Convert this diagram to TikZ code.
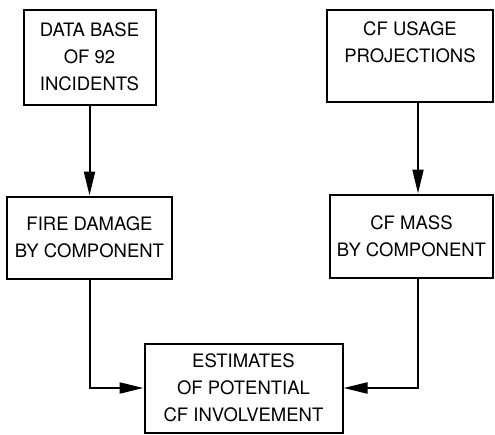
\documentclass[tikz,border=0pt]{standalone}
\usepackage{fontspec}
\setmainfont{TeX Gyre Heros}
\usetikzlibrary{arrows.meta}
\begin{document}
\begin{tikzpicture}[x=1pt,y=-1pt,line width=2pt,>={Triangle[length=24pt,width=11pt]}]
        \tikzstyle{block}=[rectangle,draw=black,inner sep=0pt,align=center,font=\fontsize{18.5}{27}\selectfont]
        \tikzstyle{edge}=[draw,->]
        \useasboundingbox (0,0) rectangle (495,434);
       \begin{scope}
         \node [block,minimum width=132pt,minimum height=95pt] (db) at (89.5,57) {DATA BASE\\OF 92\\INCIDENTS};
         \node [block,minimum width=166pt,minimum height=92pt] (usage) at (410,56) {CF USAGE\\PROJECTIONS\\\mbox{}};
         \node [block,minimum width=165pt,minimum height=82pt] (fire) at (89.5,237.5) {FIRE DAMAGE\\BY COMPONENT};
         \node [block,minimum width=163pt,minimum height=83pt] (mass) at (411.5,236) {CF MASS\\BY COMPONENT};
         \node [block,minimum width=198pt,minimum height=89pt] (est) at (243.5,388) {ESTIMATES\\OF POTENTIAL\\CF INVOLVEMENT};
         \path[edge] (db) -- (fire);
         \path[edge] ([xshift=8pt]usage.south) -- ([xshift=6.5pt]mass.north);
         \path[edge] (fire.south) |- (est.west);
         \path[edge] ([xshift=6.5pt]mass.south) |- (est.east);
        \end{scope}
      \end{tikzpicture}
\end{document}
